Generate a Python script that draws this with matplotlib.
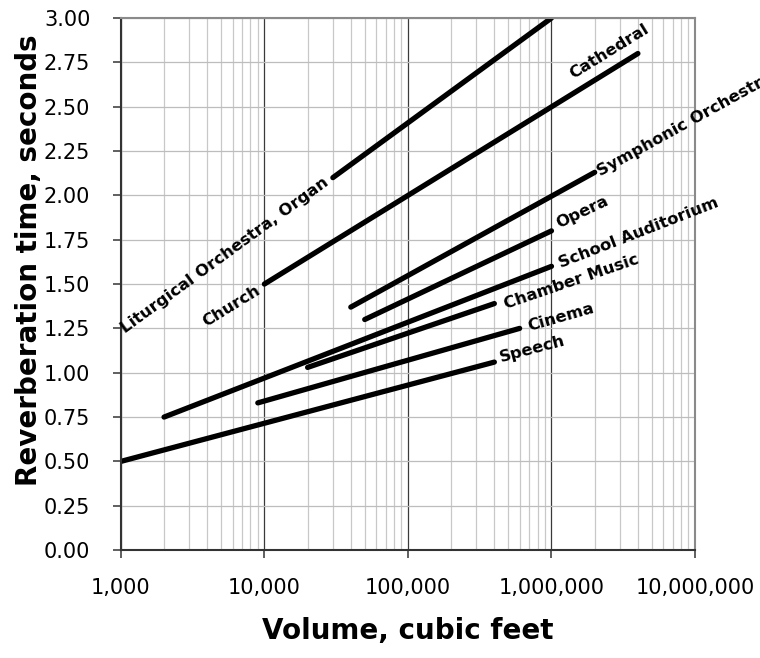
import numpy as np
import matplotlib
matplotlib.use("Agg")
import matplotlib.pyplot as plt
from matplotlib.ticker import FuncFormatter, LogLocator, FixedLocator

# room types: (start volume, start RT) -> (end volume, end RT)
rooms = ["Liturgical", "Church", "Symphonic", "Opera",
         "School", "Chamber", "Cinema", "Speech"]
vol_start = [30000, 10000, 40000, 50000, 2000, 20000, 9000, 1000]
vol_end = [1000000, 4000000, 2000000, 1000000, 1000000, 400000, 600000, 400000]
rt_start = [2.10, 1.50, 1.37, 1.30, 0.75, 1.03, 0.83, 0.50]
rt_end = [3.00, 2.80, 2.13, 1.80, 1.60, 1.39, 1.25, 1.06]

# labels at the end of a line (upper right)
end_labels = {
    "Symphonic": "Symphonic Orchestra",
    "Opera": "Opera",
    "School": "School Auditorium",
    "Chamber": "Chamber Music",
    "Cinema": "Cinema",
    "Speech": "Speech",
}
# labels at the start of a line (lower left)
start_labels = {
    "Liturgical": "Liturgical Orchestra, Organ",
    "Church": "Church",
}

plt.rcParams["font.family"] = ["DejaVu Sans"]

fig = plt.figure(figsize=(7.6, 6.58), dpi=100)
ax = fig.add_axes([0.159, 0.164, 0.7555, 0.8086])

ax.set_xscale("log")
ax.set_xlim(1000, 10000000)
ax.set_ylim(0, 3.0)

# grid
ax.xaxis.set_major_locator(LogLocator(base=10, numticks=10))
ax.xaxis.set_minor_locator(LogLocator(base=10, subs=np.arange(2, 10), numticks=20))
ax.yaxis.set_major_locator(FixedLocator(np.arange(0, 3.01, 0.25)))
ax.grid(True, which="minor", axis="x", color="#c8c8c8", lw=0.9)
ax.grid(True, which="major", axis="x", color="#3a3a3a", lw=0.9)
ax.grid(True, which="major", axis="y", color="#bdbdbd", lw=0.9)
ax.set_axisbelow(True)

ax.xaxis.set_major_formatter(FuncFormatter(lambda v, p: f"{v:,.0f}"))
ax.yaxis.set_major_formatter(FuncFormatter(lambda v, p: f"{v:.2f}"))
ax.tick_params(which="major", direction="out", length=6, width=1.2,
               color="#444444", labelsize=15, pad=14)
ax.tick_params(axis="y", pad=16)
ax.tick_params(which="minor", length=0)

for s in ["left", "bottom"]:
    ax.spines[s].set_color("#333333")
    ax.spines[s].set_linewidth(1.5)
for s in ["top", "right"]:
    ax.spines[s].set_color("#8a8a8a")
    ax.spines[s].set_linewidth(1.5)

for i, name in enumerate(rooms):
    ax.plot([vol_start[i], vol_end[i]], [rt_start[i], rt_end[i]],
            color="black", lw=3.8, solid_capstyle="round", clip_on=True)

fig.canvas.draw()


def angle_of(i):
    p0 = ax.transData.transform((vol_start[i], rt_start[i]))
    p1 = ax.transData.transform((vol_end[i], rt_end[i]))
    return np.degrees(np.arctan2(p1[1] - p0[1], p1[0] - p0[0]))


lab_font = dict(fontsize=11.8, fontweight="bold", color="black")

end_offsets = {
    "Symphonic": (3, 0),
    "Opera": (4, 5),
    "School": (6, 2),
    "Chamber": (7, -1),
    "Cinema": (6, 1),
    "Speech": (4, 3),
}
for name, text in end_labels.items():
    i = rooms.index(name)
    ang = angle_of(i)
    ax.annotate(text, xy=(vol_end[i], rt_end[i]), xytext=end_offsets[name],
                textcoords="offset points", rotation=ang, rotation_mode="anchor",
                ha="left", va="center", annotation_clip=False, **lab_font)

# Cathedral sits above the upper end of the church line
i = rooms.index("Church")
ax.annotate("Cathedral", xy=(vol_end[i], rt_end[i]), xytext=(10, 14),
            textcoords="offset points", rotation=angle_of(i), rotation_mode="anchor",
            ha="right", va="bottom", annotation_clip=False, **lab_font)

start_offsets = {
    "Liturgical": (-4, -2),
    "Church": (-4, -4),
}
for name, text in start_labels.items():
    i = rooms.index(name)
    ang = angle_of(i)
    ax.annotate(text, xy=(vol_start[i], rt_start[i]), xytext=start_offsets[name],
                textcoords="offset points", rotation=ang, rotation_mode="anchor",
                ha="right", va="center", annotation_clip=False, **lab_font)

ax.set_xlabel("Volume, cubic feet", fontsize=20, fontweight="bold", labelpad=14)
ax.set_ylabel("Reverberation time, seconds", fontsize=20, fontweight="bold")
ax.yaxis.set_label_coords(-0.136, 0.545)

fig.savefig("out.png", dpi=100)
